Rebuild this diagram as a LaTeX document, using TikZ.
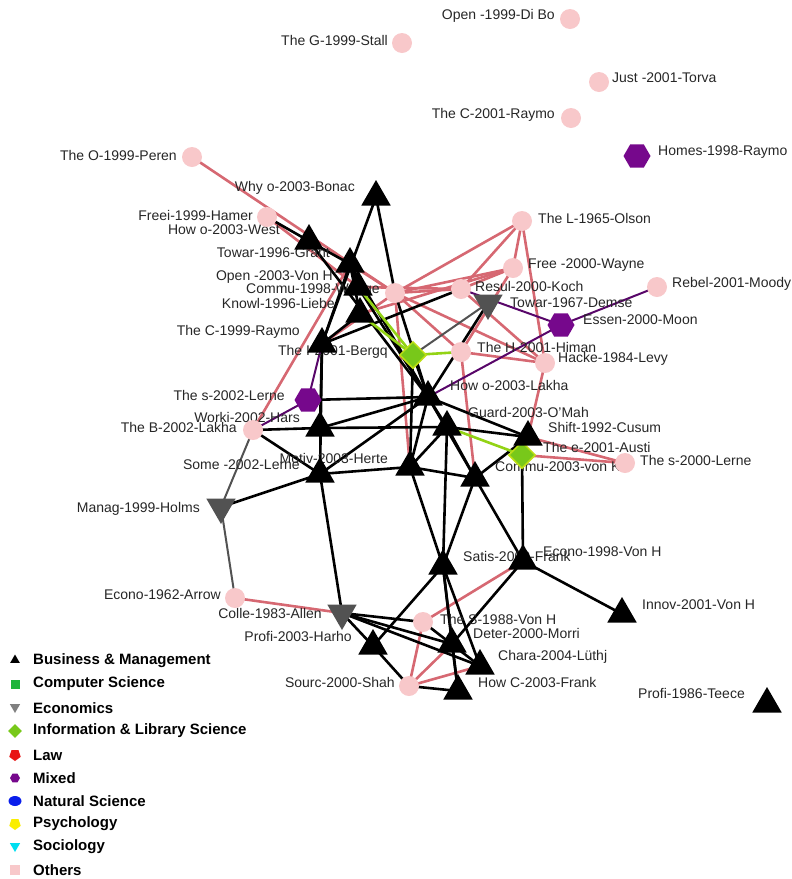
\documentclass[tikz,border=0pt]{standalone}
\usepackage{fontspec}
\setmainfont{Liberation Sans}
\usetikzlibrary{shapes.geometric,backgrounds}

\definecolor{othpink}{RGB}{248,200,202}
\definecolor{edgered}{RGB}{214,104,114}
\definecolor{mixpurple}{RGB}{118,8,140}
\definecolor{infgreen}{RGB}{120,200,26}
\definecolor{ecogray}{RGB}{82,82,82}
\definecolor{csgreen}{RGB}{30,180,60}
\definecolor{natblue}{RGB}{10,30,235}
\definecolor{lawred}{RGB}{232,20,20}
\definecolor{psyyellow}{RGB}{250,238,0}
\definecolor{soccyan}{RGB}{0,222,240}

\tikzset{
  bm/.style={regular polygon,regular polygon sides=3,fill=black,
    minimum size=34pt,inner sep=0pt,yshift=-4pt},
  eco/.style={bm,fill=ecogray,shape border rotate=180,yshift=8pt},
  oth/.style={circle,fill=othpink,minimum size=20pt,inner sep=0pt},
  mix/.style={regular polygon,regular polygon sides=6,fill=mixpurple,
    minimum size=27pt,inner sep=0pt},
  inf/.style={diamond,fill=infgreen,draw=yellow!75!green,line width=1.5pt,
    minimum size=27pt,inner sep=0pt},
  lbl/.style={font=\fontsize{14}{15}\selectfont,text=black!85,inner sep=0pt},
  keytext/.style={font=\bfseries\fontsize{15}{16}\selectfont,anchor=west,inner sep=0pt},
  blk/.style={draw=black,line width=2.6pt},
  pnk/.style={draw=edgered,line width=2.6pt},
  prp/.style={draw=mixpurple!75!black,line width=2pt},
  grn/.style={draw=infgreen!80!yellow,line width=2.6pt},
  gry/.style={draw=ecogray,line width=2pt}
}

\begin{document}
\begin{tikzpicture}[x=1pt,y=-1pt]
\useasboundingbox (0,0) rectangle (792,879);

% labels (left of node)
\foreach \n/\x/\y/\t in {
  dibo/555/16/{Open -1999-Di Bo}, stall/388/40/{The G-1999-Stall},
  raymo01/555/115/{The C-2001-Raymo}, peren/177/155/{The O-1999-Peren},
  hamer/253/215/{Freei-1999-Hamer}, wenger/380/290/{Commu-1998-Wenge},
  lakhaB/237/427/{The B-2002-Lakha}, arrow/221/595/{Econo-1962-Arrow},
  shah/395/682/{Sourc-2000-Shah}, lerne02/285/395/{The s-2002-Lerne},
  holms/200/509/{Manag-1999-Holms}, allen/322/613/{Colle-1983-Allen},
  bergq/388/352/{The I-2001-Bergq}, bonac/355/188/{Why o-2003-Bonac},
  west/280/230/{How o-2003-West}, grant/330/253/{Towar-1996-Grant},
  openvh/333/277/{Open -2003-Von H}, knowl/335/303/{Knowl-1996-Liebe},
  raymo99/300/332/{The C-1999-Raymo}, worki/300/417/{Worki-2002-Hars},
  some/300/465/{Some -2002-Lerne}, motiv/388/458/{Motiv-2003-Herte},
  harho/352/636/{Profi-2003-Harho}, teece/745/693/{Profi-1986-Teece}}
  \node[lbl,anchor=east] (\n-t) at (\x,\y) {\t};

% labels (right of node)
\foreach \n/\x/\y/\t in {
  torva/612/78/{Just -2001-Torva}, olson/538/218/{The L-1965-Olson},
  wayne/528/265/{Free -2000-Wayne}, koch/475/286/{Resul-2000-Koch},
  himan/477/347/{The H-2001-Himan}, levy/558/359/{Hacke-1984-Levy},
  moody/672/284/{Rebel-2001-Moody}, lerne00/640/460/{The s-2000-Lerne},
  vonh88/440/619/{The S-1988-Von H}, homes/658/152/{Homes-1998-Raymo},
  moon/583/320/{Essen-2000-Moon}, demse/510/303/{Towar-1967-Demse},
  austi/543/447/{The e-2001-Austi}, lakha03/450/385/{How o-2003-Lakha},
  guard/468/412/{Guard-2003-O’Mah}, cusum/548/427/{Shift-1992-Cusum},
  vonk/495/467/{Commu-2003-von K}, satis/463/556/{Satis-2000-Frank},
  econ98/543/552/{Econo-1998-Von H}, innov/642/605/{Innov-2001-Von H},
  deter/473/633/{Deter-2000-Morri}, chara/498/657/{Chara-2004-Lüthj},
  howc/478/682/{How C-2003-Frank}}
  \node[lbl,anchor=west] (\n-t) at (\x,\y) {\t};

% Others
\foreach \n/\x/\y in {dibo/570/19, stall/402/43, torva/599/82,
  raymo01/571/118, peren/192/157, hamer/267/217, olson/522/221,
  wayne/513/268, koch/461/289, wenger/395/293, himan/461/352,
  levy/545/363, moody/657/287, lakhaB/253/430, lerne00/625/463,
  arrow/235/598, vonh88/423/622, shah/409/686}
  \node[oth] (\n) at (\x,\y) {};

% Mixed
\node[mix] (homes) at (637,156) {};
\node[mix] (moon) at (561,325) {};
\node[mix] (lerne02) at (308,400) {};

% Economics
\node[eco] (demse) at (488,307) {};
\node[eco] (holms) at (221,511) {};
\node[eco] (allen) at (342,617) {};

% Information & Library Science
\node[inf] (bergq) at (413,355) {};
\node[inf] (austi) at (522,455) {};

% Business & Management
\foreach \n/\x/\y in {bonac/376/193, west/309/237, grant/350/260,
  openvh/358/283, knowl/360/310, raymo99/322/340, worki/320/424,
  some/320/470, motiv/410/463, lakha03/428/393, guard/447/423,
  cusum/528/433, vonk/475/474, satis/443/562, econ98/523/557,
  innov/622/610, teece/767/700, deter/452/640, chara/480/662,
  howc/458/687, harho/373/642}
  \node[bm] (\n) at (\x,\y) {};

\begin{scope}[on background layer]
\foreach \a/\b in {peren/wenger, hamer/openvh, grant/wenger, openvh/koch,
  knowl/wayne, raymo99/wenger, lakhaB/grant, wenger/koch, wenger/wayne,
  wenger/olson, wenger/himan, wenger/levy, koch/olson, koch/wayne,
  koch/levy, wayne/olson, wayne/himan, olson/levy, himan/levy,
  himan/vonk, levy/cusum, cusum/lerne00, austi/lerne00, econ98/vonh88,
  shah/vonh88, shah/deter, shah/chara, arrow/allen, wenger/motiv}
  \draw[pnk] (\a.center) -- (\b.center);
\foreach \a/\b in {bonac/raymo99, bonac/wenger, west/grant, west/lakha03,
  hamer/west, grant/raymo99, grant/knowl, grant/openvh, grant/lakha03,
  openvh/lakha03, knowl/raymo99, raymo99/koch, raymo99/worki,
  raymo99/some, lerne02/lakha03, worki/lakha03, worki/some,
  lakhaB/worki, lakhaB/some, some/lakha03, some/motiv, motiv/vonk,
  some/holms, some/allen, motiv/lakha03, motiv/guard, motiv/satis,
  bergq/motiv, guard/lakha03, guard/cusum, guard/satis, guard/vonk,
  lakha03/cusum, lakha03/vonk, lakha03/demse, lakha03/bergq,
  wenger/lakha03, vonk/satis, vonk/econ98, cusum/vonk, austi/econ98,
  econ98/innov, econ98/deter, satis/harho, satis/deter, satis/chara,
  satis/howc, allen/vonh88, allen/deter, allen/chara, allen/harho,
  harho/shah, shah/howc, deter/howc, vonh88/chara, worki/guard}
  \draw[blk] (\a.center) -- (\b.center);
\foreach \a/\b in {lakhaB/lerne02, lerne02/raymo99, lakha03/moon,
  koch/moon, moon/moody}
  \draw[prp] (\a.center) -- (\b.center);
\foreach \a/\b in {openvh/bergq, knowl/bergq, bergq/himan, guard/austi}
  \draw[grn] (\a.center) -- (\b.center);
\foreach \a/\b in {lakhaB/holms, holms/arrow, demse/bergq}
  \draw[gry] (\a.center) -- (\b.center);
\end{scope}

% key
\node[regular polygon,regular polygon sides=3,fill=black,minimum size=11pt,inner sep=0pt] (kbm) at (15,660) {};
\node[fill=csgreen,minimum size=9pt,inner sep=0pt] (kcs) at (15,684) {};
\node[regular polygon,regular polygon sides=3,shape border rotate=180,fill=gray,minimum size=12pt,inner sep=0pt] (keco) at (15,707) {};
\node[diamond,fill=infgreen,minimum size=14pt,inner sep=0pt] (kinf) at (15,731) {};
\node[regular polygon,regular polygon sides=5,shape border rotate=180,fill=lawred,minimum size=12pt,inner sep=0pt] (klaw) at (15,755) {};
\node[regular polygon,regular polygon sides=6,fill=mixpurple,minimum size=10pt,inner sep=0pt] (kmix) at (15,778) {};
\node[ellipse,fill=natblue,minimum width=13pt,minimum height=10pt,inner sep=0pt] (knat) at (15,801) {};
\node[regular polygon,regular polygon sides=5,shape border rotate=180,fill=psyyellow,minimum size=12pt,inner sep=0pt] (kpsy) at (15,824) {};
\node[regular polygon,regular polygon sides=3,shape border rotate=180,fill=soccyan,minimum size=12pt,inner sep=0pt] (ksoc) at (15,846) {};
\node[fill=othpink,minimum size=10pt,inner sep=0pt] (koth) at (15,870) {};

\node[keytext] (kbm-t) at (33,661) {Business \& Management};
\node[keytext] (kcs-t) at (33,684) {Computer Science};
\node[keytext] (keco-t) at (33,708) {Economics};
\node[keytext] (kinf-t) at (33,731) {Information \& Library Science};
\node[keytext] (klaw-t) at (33,755) {Law};
\node[keytext] (kmix-t) at (33,778) {Mixed};
\node[keytext] (knat-t) at (33,801) {Natural Science};
\node[keytext] (kpsy-t) at (33,824) {Psychology};
\node[keytext] (ksoc-t) at (33,847) {Sociology};
\node[keytext] (koth-t) at (33,870) {Others};
\end{tikzpicture}
\end{document}
